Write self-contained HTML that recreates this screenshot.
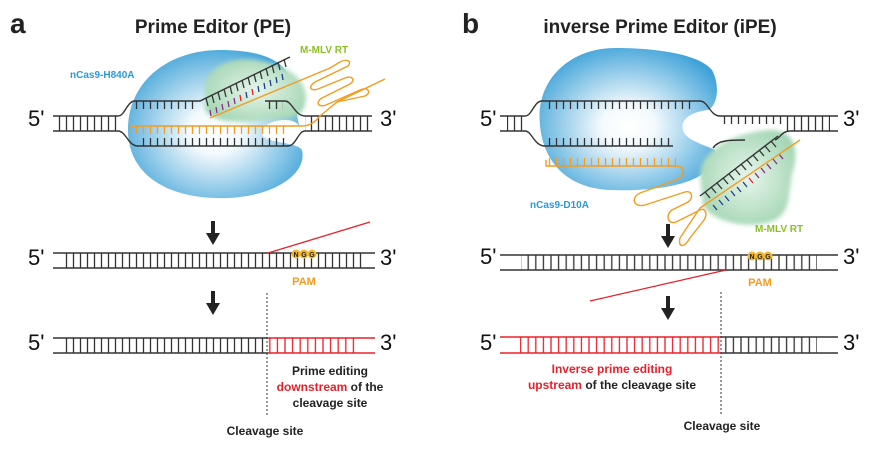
<!DOCTYPE html>
<html><head><meta charset="utf-8"><style>
html,body{margin:0;padding:0;background:#fff}
svg{display:block}
text{font-family:"Liberation Sans",Arial,sans-serif}
</style></head><body>
<svg width="886" height="455" viewBox="0 0 886 455" xmlns="http://www.w3.org/2000/svg">
<defs>
<pattern id="rk" patternUnits="userSpaceOnUse" width="7" height="500"><line x1="3.5" y1="0" x2="3.5" y2="500" stroke="#333" stroke-width="1.3"/></pattern>
<pattern id="rr" patternUnits="userSpaceOnUse" width="7.6" height="500"><line x1="3.8" y1="0" x2="3.8" y2="500" stroke="#e8202a" stroke-width="1.3"/></pattern>
<pattern id="rk2" patternUnits="userSpaceOnUse" width="7.6" height="500"><line x1="3.8" y1="0" x2="3.8" y2="500" stroke="#333" stroke-width="1.3"/></pattern>
<pattern id="ro" patternUnits="userSpaceOnUse" width="7" height="500"><line x1="3.5" y1="0" x2="3.5" y2="500" stroke="#f39c1f" stroke-width="1.3"/></pattern>
<radialGradient id="bg" cx="0.5" cy="0.55" r="0.6"><stop offset="0" stop-color="#fff"/><stop offset="0.25" stop-color="#f4fafd"/><stop offset="1" stop-color="#3ea2d8"/></radialGradient>
<radialGradient id="gg" cx="0.5" cy="0.5" r="0.6"><stop offset="0" stop-color="#e8f5ec"/><stop offset="1" stop-color="#9fd4b0"/></radialGradient>
<filter id="bl"><feGaussianBlur stdDeviation="2"/></filter>
</defs>

<!-- ===== Panel a ===== -->
<text x="10" y="33" font-size="28" font-weight="bold" fill="#222">a</text>
<text x="213" y="33" font-size="19" font-weight="bold" fill="#222" text-anchor="middle">Prime Editor (PE)</text>

<path d="M128,130 C128,80 170,50 220,50 C260,50 285,60 290,80 L300,130 C300,115 268,118 262,130 C258,145 295,140 302,150 C308,175 270,200 215,198 C160,196 128,170 128,130 Z" fill="url(#bg)"/>
<path d="M205,85 C210,62 240,55 265,62 C295,68 310,85 305,105 C300,122 280,118 265,120 C245,122 215,125 205,110 Z" fill="url(#gg)" filter="url(#bl)"/>

<text x="70" y="78" font-size="10" font-weight="bold" fill="#2a9ad6">nCas9-H840A</text>
<text x="300" y="53" font-size="10" font-weight="bold" fill="#8cbf26">M-MLV RT</text>

<text x="28" y="126" font-size="22" fill="#111">5'</text>
<text x="380" y="126" font-size="22" fill="#111">3'</text>
<rect x="56" y="116" width="62" height="15" fill="url(#rk)"/>
<rect x="305" y="116" width="65" height="15" fill="url(#rk)"/>
<path d="M53,116 L118,116 C125,116 127,101 135,101 L200,101 L290,57" fill="none" stroke="#333" stroke-width="1.4"/>
<path d="M53,131 L118,131 C126,131 128,146 138,146 L288,146 C296,146 298,131 305,131 L372,131" fill="none" stroke="#333" stroke-width="1.4"/>
<path d="M265,101 L285,101 C292,101 295,116 305,116 L372,116" fill="none" stroke="#333" stroke-width="1.4"/>
<rect x="135" y="101" width="60" height="8" fill="url(#rk)"/>
<rect x="140" y="138" width="145" height="8" fill="url(#rk)"/>
<rect x="265" y="101" width="18" height="8" fill="url(#rk)"/>
<rect x="130" y="126" width="155" height="8" fill="url(#ro)"/>
<g stroke-width="1.3">
<line x1="206" y1="98" x2="208" y2="106" stroke="#333"/><line x1="212" y1="95" x2="214" y2="103" stroke="#333"/><line x1="218" y1="92" x2="220" y2="100" stroke="#333"/><line x1="224" y1="89" x2="226" y2="97" stroke="#333"/><line x1="230" y1="86" x2="232" y2="94" stroke="#333"/><line x1="236" y1="83" x2="238" y2="91" stroke="#333"/><line x1="242" y1="80" x2="244" y2="88" stroke="#333"/><line x1="248" y1="77" x2="250" y2="85" stroke="#333"/><line x1="254" y1="74" x2="256" y2="82" stroke="#333"/><line x1="260" y1="71" x2="262" y2="79" stroke="#333"/><line x1="266" y1="68" x2="268" y2="76" stroke="#333"/><line x1="272" y1="65" x2="274" y2="73" stroke="#333"/><line x1="278" y1="62" x2="280" y2="70" stroke="#333"/><line x1="284" y1="59" x2="286" y2="67" stroke="#333"/>
<line x1="210" y1="110" x2="211" y2="116" stroke="#8a2a8a"/><line x1="216" y1="107" x2="217" y2="113" stroke="#8a2a8a"/><line x1="222" y1="104" x2="223" y2="110" stroke="#8a2a8a"/><line x1="228" y1="101" x2="229" y2="107" stroke="#8a2a8a"/><line x1="234" y1="98" x2="235" y2="104" stroke="#8a2a8a"/><line x1="240" y1="95" x2="241" y2="101" stroke="#e8202a"/><line x1="246" y1="92" x2="247" y2="98" stroke="#1d3e8a"/><line x1="252" y1="89" x2="253" y2="95" stroke="#e8202a"/><line x1="258" y1="86" x2="259" y2="92" stroke="#1d3e8a"/><line x1="264" y1="83" x2="265" y2="89" stroke="#1d3e8a"/><line x1="270" y1="80" x2="271" y2="86" stroke="#1d3e8a"/><line x1="276" y1="77" x2="277" y2="83" stroke="#1d3e8a"/><line x1="282" y1="74" x2="283" y2="80" stroke="#1d3e8a"/>
</g>
<path d="M130,126 L302,126 C310,126 315,122 320,116 L337,102 L385,79" fill="none" stroke="#f39c1f" stroke-width="1.4"/>
<path d="M210,118 L330,68 L340,62 C348,58 352,62 348,66 L315,82 C308,86 310,92 318,89 L345,78 C352,75 356,80 350,84 L322,98 C315,102 318,108 326,105 L360,90 C368,86 372,93 365,96 L337,102" fill="none" stroke="#f39c1f" stroke-width="1.4"/>

<path d="M213,221 L213,234" stroke="#222" stroke-width="4"/><path d="M206,233 L220,233 L213,245 Z" fill="#222"/>
<text x="28" y="265" font-size="22" fill="#111">5'</text>
<text x="380" y="265" font-size="22" fill="#111">3'</text>
<rect x="62" y="253" width="300" height="15" fill="url(#rk)"/>
<line x1="53" y1="253" x2="375" y2="253" stroke="#333" stroke-width="1.4"/>
<line x1="53" y1="268" x2="375" y2="268" stroke="#333" stroke-width="1.4"/>
<line x1="268" y1="253" x2="370" y2="222" stroke="#e8202a" stroke-width="1.3"/>
<g font-size="7" font-weight="bold" text-anchor="middle"><circle cx="296" cy="254" r="4.5" fill="#f5b82a"/><circle cx="304" cy="254" r="4.5" fill="#f5b82a"/><circle cx="312" cy="254" r="4.5" fill="#f5b82a"/><text x="296" y="257" fill="#222">N</text><text x="304" y="257" fill="#222">G</text><text x="312" y="257" fill="#222">G</text></g>
<text x="304" y="285" font-size="11" font-weight="bold" fill="#f39c1f" text-anchor="middle">PAM</text>

<path d="M213,291 L213,304" stroke="#222" stroke-width="4"/><path d="M206,303 L220,303 L213,315 Z" fill="#222"/>
<text x="28" y="350" font-size="22" fill="#111">5'</text>
<text x="380" y="350" font-size="22" fill="#111">3'</text>
<rect x="62" y="338" width="206" height="15" fill="url(#rk)"/>
<rect x="268" y="338" width="92" height="15" fill="url(#rr)"/>
<line x1="53" y1="338" x2="268" y2="338" stroke="#333" stroke-width="1.4"/>
<line x1="53" y1="353" x2="268" y2="353" stroke="#333" stroke-width="1.4"/>
<line x1="268" y1="338" x2="375" y2="338" stroke="#e8202a" stroke-width="1.4"/>
<line x1="268" y1="353" x2="375" y2="353" stroke="#e8202a" stroke-width="1.4"/>
<line x1="267" y1="293" x2="267" y2="415" stroke="#333" stroke-width="1" stroke-dasharray="2,2"/>
<g font-size="12" font-weight="bold" text-anchor="middle" fill="#222">
<text x="330" y="375">Prime editing</text>
<text x="330" y="391"><tspan fill="#e8202a">downstream</tspan> of the</text>
<text x="330" y="407">cleavage site</text>
</g>
<text x="265" y="435" font-size="12" font-weight="bold" fill="#222" text-anchor="middle">Cleavage site</text>

<!-- ===== Panel b ===== -->
<text x="462" y="33" font-size="28" font-weight="bold" fill="#222">b</text>
<text x="660" y="33" font-size="19" font-weight="bold" fill="#222" text-anchor="middle">inverse Prime Editor (iPE)</text>

<path d="M540,125 C535,80 570,48 615,48 C660,48 700,55 712,70 C720,85 718,105 708,110 C690,112 680,120 683,130 C685,140 705,145 715,150 C718,180 670,192 610,190 C565,188 543,160 540,125 Z" fill="url(#bg)"/>
<path d="M700,175 C700,150 735,132 770,130 C795,130 800,150 792,175 C788,200 790,215 770,222 C745,230 710,220 703,205 Z" fill="url(#gg)" filter="url(#bl)"/>
<text x="530" y="208" font-size="10" font-weight="bold" fill="#2a9ad6">nCas9-D10A</text>
<text x="755" y="232" font-size="10" font-weight="bold" fill="#8cbf26">M-MLV RT</text>

<text x="480" y="126" font-size="22" fill="#111">5'</text>
<text x="843" y="126" font-size="22" fill="#111">3'</text>
<rect x="507" y="116" width="20" height="15" fill="url(#rk)"/>
<rect x="785" y="116" width="45" height="15" fill="url(#rk)"/>
<rect x="722" y="116" width="62" height="8" fill="url(#rk)"/>
<path d="M500,116 L525,116 C532,116 534,101 542,101 L700,101 C708,101 710,116 720,116 L838,116" fill="none" stroke="#333" stroke-width="1.4"/>
<path d="M500,131 L525,131 C532,131 534,146 545,146 L673,146" fill="none" stroke="#333" stroke-width="1.4"/>
<path d="M838,131 L790,131 C782,131 780,138 775,140" fill="none" stroke="#333" stroke-width="1.4"/>
<path d="M713,148 C718,140 730,140 745,140" fill="none" stroke="#333" stroke-width="1.4"/>
<rect x="545" y="101" width="150" height="8" fill="url(#rk)"/>
<rect x="545" y="138" width="128" height="8" fill="url(#rk)"/>
<rect x="546" y="158" width="130" height="8" fill="url(#ro)"/>
<path d="M700,196 L778,136" fill="none" stroke="#333" stroke-width="1.4"/>
<g stroke-width="1.3">
<line x1="705" y1="192" x2="710" y2="198" stroke="#333"/><line x1="711" y1="187" x2="716" y2="193" stroke="#333"/><line x1="717" y1="183" x2="722" y2="189" stroke="#333"/><line x1="723" y1="178" x2="728" y2="184" stroke="#333"/><line x1="729" y1="174" x2="734" y2="180" stroke="#333"/><line x1="735" y1="169" x2="740" y2="175" stroke="#333"/><line x1="741" y1="164" x2="746" y2="170" stroke="#333"/><line x1="747" y1="160" x2="752" y2="166" stroke="#333"/><line x1="753" y1="155" x2="758" y2="161" stroke="#333"/><line x1="759" y1="150" x2="764" y2="156" stroke="#333"/><line x1="765" y1="146" x2="770" y2="152" stroke="#333"/><line x1="771" y1="141" x2="776" y2="147" stroke="#333"/>
<line x1="713" y1="205" x2="717" y2="210" stroke="#1d3e8a"/><line x1="719" y1="200" x2="723" y2="205" stroke="#1d3e8a"/><line x1="725" y1="196" x2="729" y2="201" stroke="#1d3e8a"/><line x1="731" y1="191" x2="735" y2="196" stroke="#1d3e8a"/><line x1="737" y1="187" x2="741" y2="192" stroke="#1d3e8a"/><line x1="743" y1="182" x2="747" y2="187" stroke="#1d3e8a"/><line x1="749" y1="178" x2="753" y2="183" stroke="#e8202a"/><line x1="755" y1="173" x2="759" y2="178" stroke="#8a2a8a"/><line x1="761" y1="168" x2="765" y2="173" stroke="#8a2a8a"/><line x1="767" y1="164" x2="771" y2="169" stroke="#8a2a8a"/><line x1="773" y1="159" x2="777" y2="164" stroke="#8a2a8a"/><line x1="779" y1="154" x2="783" y2="159" stroke="#8a2a8a"/>
</g>
<path d="M546,160 L546,166 L675,166 C686,166 686,176 676,180 L640,193 C630,198 634,208 645,205 L685,192 C692,190 694,198 688,202 L672,210 C665,215 668,225 676,222 L700,210 C705,207 708,214 704,220 L690,238 C684,248 678,248 680,238 L700,208 L800,140" fill="none" stroke="#f39c1f" stroke-width="1.4"/>

<path d="M668,224 L668,237" stroke="#222" stroke-width="4"/><path d="M661,236 L675,236 L668,248 Z" fill="#222"/>
<text x="480" y="264" font-size="22" fill="#111">5'</text>
<text x="843" y="264" font-size="22" fill="#111">3'</text>
<rect x="521" y="255" width="296" height="15" fill="url(#rk2)"/>
<line x1="500" y1="255" x2="838" y2="255" stroke="#333" stroke-width="1.4"/>
<line x1="500" y1="270" x2="838" y2="270" stroke="#333" stroke-width="1.4"/>
<line x1="590" y1="301" x2="726" y2="270" stroke="#e8202a" stroke-width="1.3"/>
<g font-size="7" font-weight="bold" text-anchor="middle"><circle cx="752" cy="256" r="4.5" fill="#f5b82a"/><circle cx="760" cy="256" r="4.5" fill="#f5b82a"/><circle cx="768" cy="256" r="4.5" fill="#f5b82a"/><text x="752" y="259" fill="#222">N</text><text x="760" y="259" fill="#222">G</text><text x="768" y="259" fill="#222">G</text></g>
<text x="760" y="286" font-size="11" font-weight="bold" fill="#f39c1f" text-anchor="middle">PAM</text>

<path d="M668,296 L668,309" stroke="#222" stroke-width="4"/><path d="M661,308 L675,308 L668,320 Z" fill="#222"/>
<text x="480" y="350" font-size="22" fill="#111">5'</text>
<text x="843" y="350" font-size="22" fill="#111">3'</text>
<rect x="520" y="337" width="200" height="16" fill="url(#rr)"/>
<rect x="721" y="337" width="96" height="16" fill="url(#rk2)"/>
<line x1="500" y1="337" x2="721" y2="337" stroke="#e8202a" stroke-width="1.4"/>
<line x1="500" y1="353" x2="721" y2="353" stroke="#e8202a" stroke-width="1.4"/>
<line x1="721" y1="337" x2="838" y2="337" stroke="#333" stroke-width="1.4"/>
<line x1="721" y1="353" x2="838" y2="353" stroke="#333" stroke-width="1.4"/>
<line x1="721" y1="292" x2="721" y2="415" stroke="#333" stroke-width="1" stroke-dasharray="2,2"/>
<g font-size="12" font-weight="bold" text-anchor="middle" fill="#222">
<text x="612" y="373" fill="#e8202a">Inverse prime editing</text>
<text x="612" y="389"><tspan fill="#e8202a">upstream</tspan> of the cleavage site</text>
</g>
<text x="722" y="430" font-size="12" font-weight="bold" fill="#222" text-anchor="middle">Cleavage site</text>
</svg>
</body></html>
